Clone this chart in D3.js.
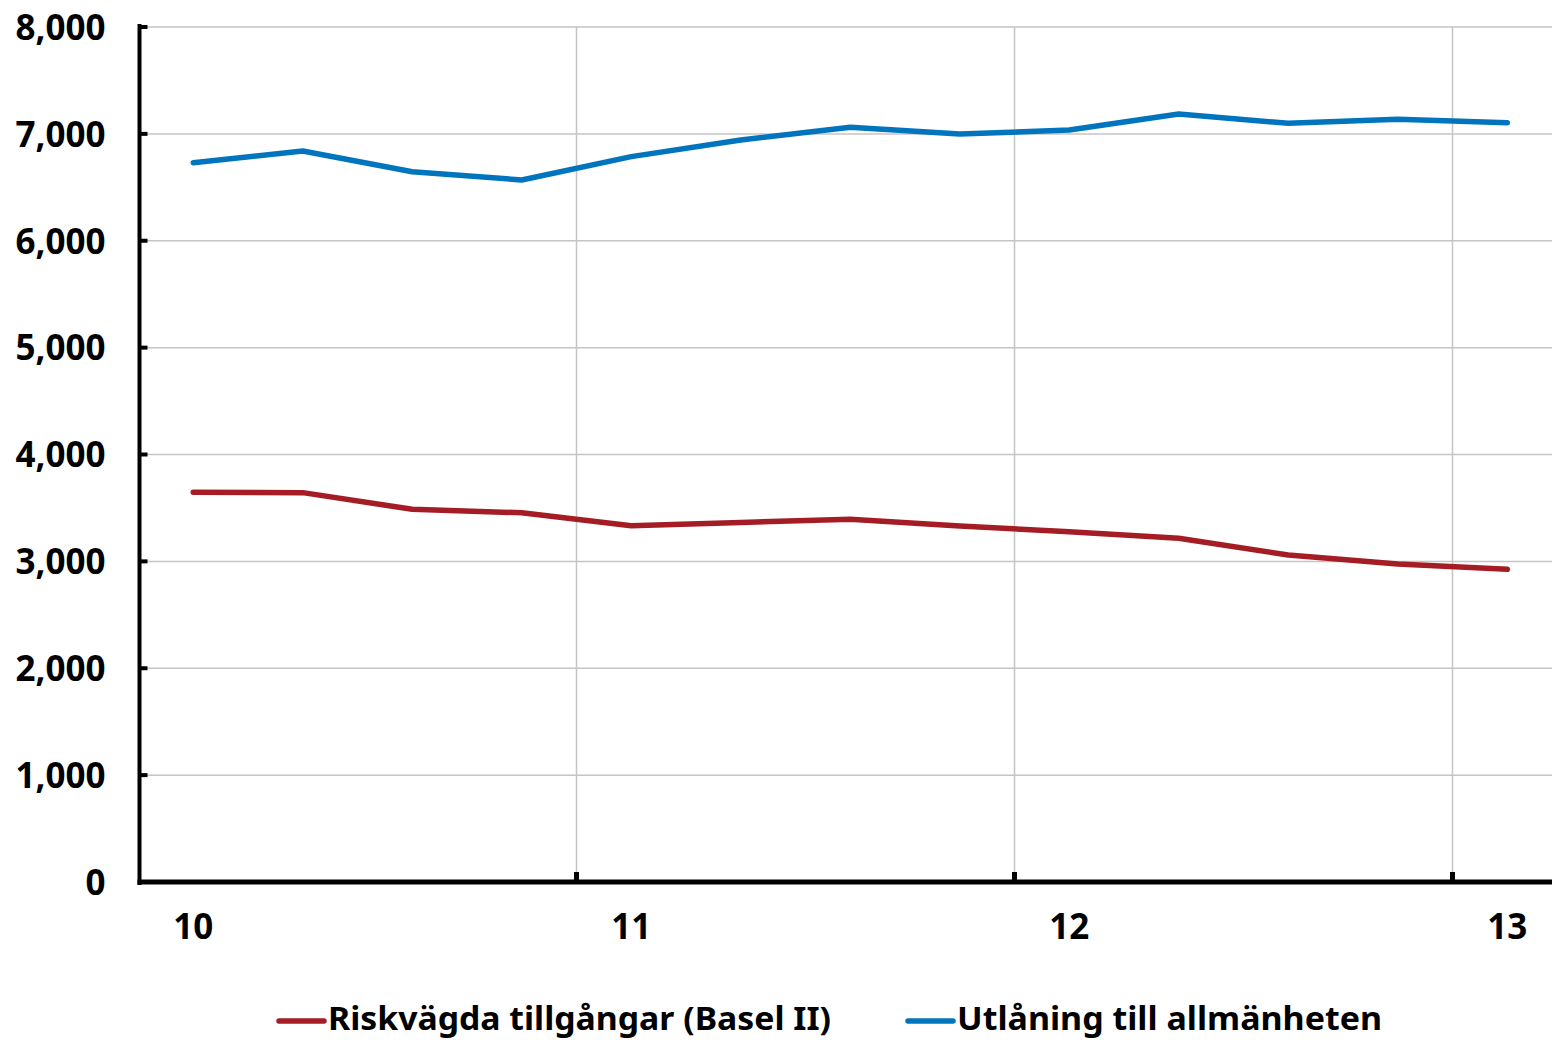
<!DOCTYPE html>
<html><head><meta charset="utf-8">
<script src="https://cdn.jsdelivr.net/npm/d3@7"></script>
<style>html,body{margin:0;padding:0;background:#fff;overflow:hidden}svg{display:block}text{font-family:"Noto Sans",sans-serif;font-weight:bold;fill:#000}</style>
</head><body><svg id="c" width="1552" height="1040"></svg>
<script>
const quarters = ["2010Q1","2010Q2","2010Q3","2010Q4","2011Q1","2011Q2","2011Q3","2011Q4","2012Q1","2012Q2","2012Q3","2012Q4","2013Q1"];
const riskvagda = [3646,3643,3487,3455,3334,3364,3394,3331,3278,3216,3060,2975,2926];
const utlaning = [6730,6840,6646,6569,6787,6943,7061,6999,7036,7186,7099,7136,7105];
const yTicks = [0,1000,2000,3000,4000,5000,6000,7000,8000];
const xLabels = [{q:"2010Q1",t:"10"},{q:"2011Q1",t:"11"},{q:"2012Q1",t:"12"},{q:"2013Q1",t:"13"}];
const yearBounds = ["2011Q1","2012Q1","2013Q1"];
const seriesNames = ["Riskvägda tillgångar (Basel II)","Utlåning till allmänheten"];
const colors = ["#A51D24","#0075BE"];

const svg = d3.select("#c");
const mLeft = 138.5, mTop = 27, mBottom = 882, W = 1552;
const x = d3.scaleBand().domain(quarters).range([mLeft, mLeft + 13*109.5]);
const y = d3.scaleLinear().domain([0,8000]).range([mBottom, mTop]);
const cx = q => x(q) + x.bandwidth()/2;

// horizontal grid
svg.append("g").selectAll("line").data(yTicks.filter(d=>d>0)).join("line")
  .attr("x1", mLeft).attr("x2", W).attr("y1", d=>y(d)).attr("y2", d=>y(d))
  .attr("stroke","#c4c4c4").attr("stroke-width",1.5);
// vertical grid
svg.append("g").selectAll("line").data(yearBounds).join("line")
  .attr("x1", d=>x(d)).attr("x2", d=>x(d)).attr("y1", mTop).attr("y2", mBottom)
  .attr("stroke","#c4c4c4").attr("stroke-width",1.5);

// y axis
const yAxis = d3.axisLeft(y).tickValues(yTicks).tickFormat(d3.format(",")).tickSize(0).tickPadding(33);
const ya = svg.append("g").attr("transform",`translate(${mLeft},0)`).call(yAxis);
ya.select(".domain").remove();
ya.selectAll("text").attr("font-size",35).attr("font-family","Noto Sans").attr("font-weight","bold").attr("fill","#000").attr("dy","0.35em");
svg.append("g").selectAll("line").data(yTicks).join("line")
  .attr("x1", mLeft).attr("x2", mLeft+9).attr("y1", d=>y(d)).attr("y2", d=>y(d))
  .attr("stroke","#000").attr("stroke-width",4);
svg.append("line").attr("x1",mLeft+1).attr("x2",mLeft+1).attr("y1",mTop-3).attr("y2",mBottom+3)
  .attr("stroke","#000").attr("stroke-width",4);

// x axis
svg.append("line").attr("x1",mLeft-1).attr("x2",W).attr("y1",mBottom).attr("y2",mBottom)
  .attr("stroke","#000").attr("stroke-width",5);
svg.append("g").selectAll("line").data(yearBounds).join("line")
  .attr("x1", d=>x(d)).attr("x2", d=>x(d)).attr("y1", mBottom-10).attr("y2", mBottom)
  .attr("stroke","#000").attr("stroke-width",5);
svg.append("g").selectAll("text").data(xLabels).join("text")
  .attr("x", d=>cx(d.q)).attr("y", 939).attr("text-anchor","middle").attr("font-size",35).text(d=>d.t);

// lines
const line = d3.line().x((d,i)=>cx(quarters[i])).y(d=>y(d));
[riskvagda, utlaning].forEach((s,i)=>{
  svg.append("path").attr("d", line(s)).attr("fill","none").attr("stroke",colors[i])
    .attr("stroke-width",5.5).attr("stroke-linecap","round").attr("stroke-linejoin","round");
});

// legend
const leg = [{sx:279, tx:328, tw:503},{sx:908, tx:957, tw:425}];
leg.forEach((l,i)=>{
  svg.append("line").attr("x1",l.sx).attr("x2",l.sx+45).attr("y1",1021).attr("y2",1021)
    .attr("stroke",colors[i]).attr("stroke-width",5.5).attr("stroke-linecap","round");
  svg.append("text").attr("x",l.tx).attr("y",1030).attr("font-size",32)
    .attr("textLength",l.tw).attr("lengthAdjust","spacingAndGlyphs").text(seriesNames[i]);
});
</script></body></html>
